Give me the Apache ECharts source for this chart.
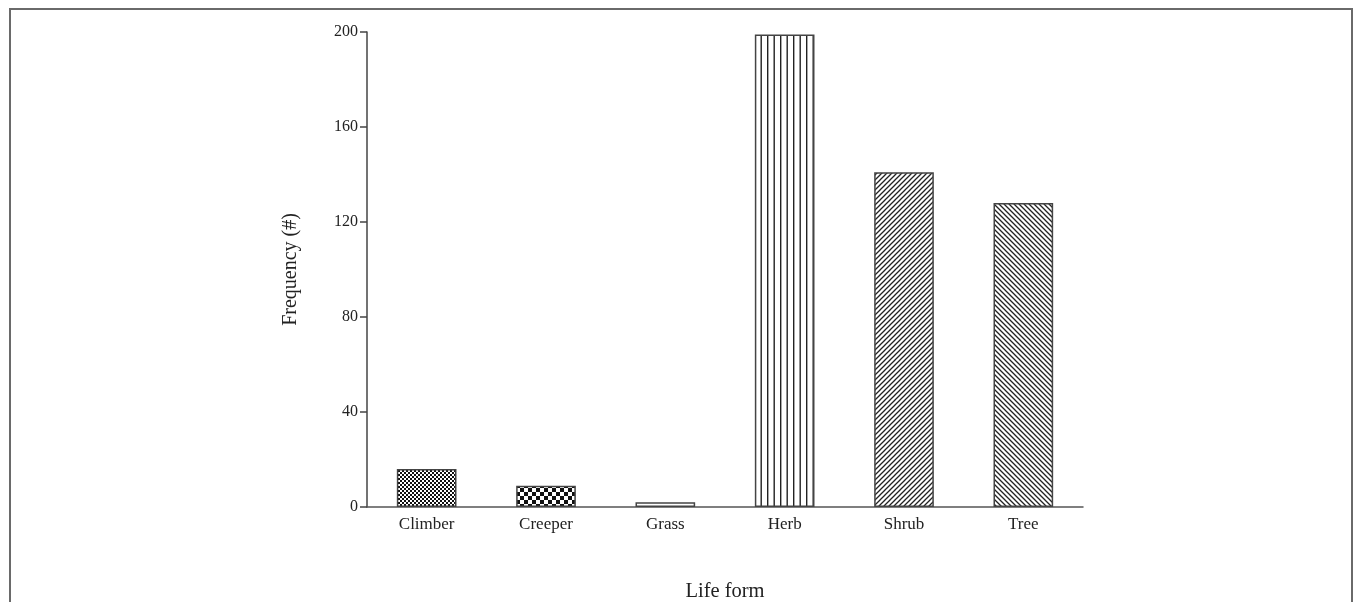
<!DOCTYPE html>
<html>
<head>
<meta charset="utf-8">
<script src="https://cdn.jsdelivr.net/npm/echarts@6/dist/echarts.min.js"></script>
<style>
  html, body { margin: 0; padding: 0; background: #fff; overflow: hidden; width: 1357px; height: 602px; }
  #frame {
    position: absolute; left: 9px; top: 8px; width: 1344px; height: 594px;
    border-top: 2px solid #6a6a6a; border-left: 2px solid #6a6a6a; border-right: 2px solid #6a6a6a;
    box-sizing: border-box;
  }
  #chart { position: absolute; left: 0; top: 0; width: 1357px; height: 602px; }
</style>
</head>
<body>
<div id="frame"></div>
<div id="chart"></div>
<script>
// Life-form categories and their species counts
const categories = ['Climber', 'Creeper', 'Grass', 'Herb', 'Shrub', 'Tree'];
const frequency = [16, 9, 2, 199, 141, 128];
const yTicks = [0, 40, 80, 120, 160, 200];
const fillStyles = ['fineCheck', 'coarseCheck', 'blank', 'vertical', 'forward', 'backward'];

// Build a small repeating tile for each hatch style
function makeTile(kind) {
  const c = document.createElement('canvas');
  const ctx = c.getContext('2d');
  if (kind === 'fineCheck' || kind === 'coarseCheck') {
    const s = kind === 'fineCheck' ? 2 : 4;
    c.width = c.height = s * 2;
    ctx.fillStyle = '#fff'; ctx.fillRect(0, 0, s * 2, s * 2);
    ctx.fillStyle = '#111';
    ctx.fillRect(0, 0, s, s); ctx.fillRect(s, s, s, s);
  } else if (kind === 'vertical') {
    c.width = 13; c.height = 4;
    ctx.fillStyle = '#fff'; ctx.fillRect(0, 0, c.width, c.height);
    ctx.fillStyle = '#222';
    ctx.fillRect(0, 0, 1.4, 4); ctx.fillRect(6.5, 0, 1.4, 4);
  } else if (kind === 'forward' || kind === 'backward') {
    const s = 5;
    c.width = c.height = s;
    ctx.fillStyle = '#fff'; ctx.fillRect(0, 0, s, s);
    ctx.strokeStyle = '#222'; ctx.lineWidth = 1.3;
    ctx.beginPath();
    if (kind === 'forward') {
      ctx.moveTo(-1, s + 1); ctx.lineTo(s + 1, -1);
      ctx.moveTo(-1, 1); ctx.lineTo(1, -1);
      ctx.moveTo(s - 1, s + 1); ctx.lineTo(s + 1, s - 1);
    } else {
      ctx.moveTo(-1, -1); ctx.lineTo(s + 1, s + 1);
      ctx.moveTo(s - 1, -1); ctx.lineTo(s + 1, 1);
      ctx.moveTo(-1, s - 1); ctx.lineTo(1, s + 1);
    }
    ctx.stroke();
  } else {
    c.width = c.height = 2;
    ctx.fillStyle = '#fff'; ctx.fillRect(0, 0, 2, 2);
  }
  return { image: c, repeat: 'repeat' };
}

const chart = echarts.init(document.getElementById('chart'), null, { renderer: 'canvas', width: 1357, height: 602 });
const font = 'Liberation Serif';

chart.setOption({
  animation: false,
  backgroundColor: 'transparent',
  grid: { left: 367, right: 274, top: 32, bottom: 95, containLabel: false, outerBoundsMode: 'none' },
  xAxis: {
    type: 'category',
    data: categories,
    name: 'Life form',
    nameLocation: 'middle',
    nameGap: 74,
    nameTextStyle: { fontFamily: font, fontSize: 20.5, color: '#222' },
    axisLine: { lineStyle: { color: '#555', width: 1.5 } },
    axisTick: { show: false },
    axisLabel: { fontFamily: font, fontSize: 17, color: '#222', margin: 9 }
  },
  yAxis: {
    type: 'value',
    min: yTicks[0],
    max: yTicks[yTicks.length - 1],
    interval: yTicks[1] - yTicks[0],
    name: 'Frequency (#)',
    nameLocation: 'middle',
    nameGap: 66,
    nameTextStyle: { fontFamily: font, fontSize: 20, color: '#222' },
    axisLine: { show: true, lineStyle: { color: '#444', width: 1.5 } },
    axisTick: { show: true, length: 7, lineStyle: { color: '#444', width: 1.5 } },
    axisLabel: { fontFamily: font, fontSize: 16, color: '#222', margin: 9 },
    splitLine: { show: false }
  },
  series: [{
    type: 'bar',
    barWidth: '50%',
    data: frequency.map((v, i) => ({
      value: v,
      itemStyle: {
        color: makeTile(fillStyles[i]),
        borderColor: '#444',
        borderWidth: 1.5
      }
    }))
  }]
});
</script>
</body>
</html>
